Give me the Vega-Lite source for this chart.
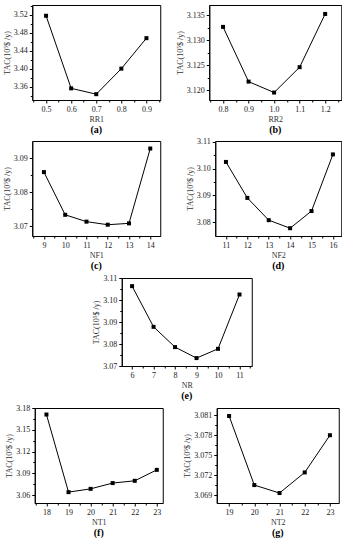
{
  "$schema": "https://vega.github.io/schema/vega-lite/v6.json",
  "padding": {"left": 2, "top": 4, "right": 0, "bottom": 0},
  "background": "white",
  "datasets": {
    "a": [{"x": 0.5, "y": 3.518}, {"x": 0.6, "y": 3.356}, {"x": 0.7, "y": 3.343}, {"x": 0.8, "y": 3.400}, {"x": 0.9, "y": 3.468}],
    "b": [{"x": 0.8, "y": 3.1327}, {"x": 0.9, "y": 3.1217}, {"x": 1.0, "y": 3.1195}, {"x": 1.1, "y": 3.1246}, {"x": 1.2, "y": 3.1353}],
    "c": [{"x": 9, "y": 3.0859}, {"x": 10, "y": 3.0734}, {"x": 11, "y": 3.0714}, {"x": 12, "y": 3.0705}, {"x": 13, "y": 3.0709}, {"x": 14, "y": 3.0928}],
    "d": [{"x": 11, "y": 3.1025}, {"x": 12, "y": 3.0891}, {"x": 13, "y": 3.0808}, {"x": 14, "y": 3.0778}, {"x": 15, "y": 3.0842}, {"x": 16, "y": 3.1053}],
    "e": [{"x": 6, "y": 3.1063}, {"x": 7, "y": 3.0878}, {"x": 8, "y": 3.0786}, {"x": 9, "y": 3.0736}, {"x": 10, "y": 3.0778}, {"x": 11, "y": 3.1025}],
    "f": [{"x": 18, "y": 3.171}, {"x": 19, "y": 3.064}, {"x": 20, "y": 3.0685}, {"x": 21, "y": 3.0765}, {"x": 22, "y": 3.0796}, {"x": 23, "y": 3.0947}],
    "g": [{"x": 19, "y": 3.0809}, {"x": 20, "y": 3.0705}, {"x": 21, "y": 3.0693}, {"x": 22, "y": 3.0724}, {"x": 23, "y": 3.0780}]
  },
  "vconcat": [
    {
      "hconcat": [
        {
          "width": 128, "height": 95,
          "data": {"name": "a"},
          "title": {"text": "(a)"},
          "layer": [
            {"mark": {"type": "line", "color": "black", "strokeWidth": 1},
             "encoding": {
               "x": {"field": "x", "type": "quantitative", "scale": {"domain": [0.445, 0.955], "nice": false, "zero": false}, "axis": {"values": [0.5, 0.6, 0.7, 0.8, 0.9], "format": ".1f", "title": "RR1"}},
               "y": {"field": "y", "type": "quantitative", "scale": {"domain": [3.330, 3.542], "nice": false, "zero": false}, "axis": {"values": [3.36, 3.40, 3.44, 3.48, 3.52], "format": ".2f", "title": "TAC(10⁵$ /y)"}}}},
            {"mark": {"type": "square", "color": "black", "size": 16, "opacity": 1},
             "encoding": {
               "x": {"field": "x", "type": "quantitative", "axis": {"values": [0.45, 0.55, 0.65, 0.75, 0.85, 0.95], "labels": false, "domain": false, "tickSize": 2, "title": null, "orient": "bottom"}},
               "y": {"field": "y", "type": "quantitative", "axis": {"values": [3.34, 3.38, 3.42, 3.46, 3.50, 3.54], "labels": false, "domain": false, "tickSize": 2, "title": null, "orient": "left"}}}}
          ],
          "resolve": {"axis": {"x": "independent", "y": "independent"}}
        },
        {
          "width": 132, "height": 95,
          "data": {"name": "b"},
          "title": {"text": "(b)"},
          "layer": [
            {"mark": {"type": "line", "color": "black", "strokeWidth": 1},
             "encoding": {
               "x": {"field": "x", "type": "quantitative", "scale": {"domain": [0.746, 1.263], "nice": false, "zero": false}, "axis": {"values": [0.8, 0.9, 1.0, 1.1, 1.2], "format": ".1f", "title": "RR2"}},
               "y": {"field": "y", "type": "quantitative", "scale": {"domain": [3.118, 3.1371], "nice": false, "zero": false}, "axis": {"values": [3.120, 3.125, 3.130, 3.135], "format": ".3f", "title": "TAC(10⁵$ /y)"}}}},
            {"mark": {"type": "square", "color": "black", "size": 16, "opacity": 1},
             "encoding": {
               "x": {"field": "x", "type": "quantitative", "axis": {"values": [0.75, 0.85, 0.95, 1.05, 1.15, 1.25], "labels": false, "domain": false, "tickSize": 2, "title": null, "orient": "bottom"}},
               "y": {"field": "y", "type": "quantitative", "axis": {"values": [3.1225, 3.1275, 3.1325], "labels": false, "domain": false, "tickSize": 2, "title": null, "orient": "left"}}}}
          ],
          "resolve": {"axis": {"x": "independent", "y": "independent"}}
        }
      ],
      "spacing": 14
    },
    {
      "hconcat": [
        {
          "width": 128, "height": 95,
          "data": {"name": "c"},
          "title": {"text": "(c)"},
          "layer": [
            {"mark": {"type": "line", "color": "black", "strokeWidth": 1},
             "encoding": {
               "x": {"field": "x", "type": "quantitative", "scale": {"domain": [8.45, 14.47], "nice": false, "zero": false}, "axis": {"values": [9, 10, 11, 12, 13, 14], "format": "d", "title": "NF1"}},
               "y": {"field": "y", "type": "quantitative", "scale": {"domain": [3.0672, 3.095], "nice": false, "zero": false}, "axis": {"values": [3.07, 3.08, 3.09], "format": ".2f", "title": "TAC(10⁵$ /y)"}}}},
            {"mark": {"type": "square", "color": "black", "size": 16, "opacity": 1},
             "encoding": {
               "x": {"field": "x", "type": "quantitative", "axis": {"values": [8.5, 9.5, 10.5, 11.5, 12.5, 13.5], "labels": false, "domain": false, "tickSize": 2, "title": null, "orient": "bottom"}},
               "y": {"field": "y", "type": "quantitative", "axis": {"values": [3.075, 3.085], "labels": false, "domain": false, "tickSize": 2, "title": null, "orient": "left"}}}}
          ],
          "resolve": {"axis": {"x": "independent", "y": "independent"}}
        },
        {
          "width": 126, "height": 95,
          "data": {"name": "d"},
          "title": {"text": "(d)"},
          "layer": [
            {"mark": {"type": "line", "color": "black", "strokeWidth": 1},
             "encoding": {
               "x": {"field": "x", "type": "quantitative", "scale": {"domain": [10.5, 16.39], "nice": false, "zero": false}, "axis": {"values": [11, 12, 13, 14, 15, 16], "format": "d", "title": "NF2"}},
               "y": {"field": "y", "type": "quantitative", "scale": {"domain": [3.0749, 3.1103], "nice": false, "zero": false}, "axis": {"values": [3.08, 3.09, 3.10, 3.11], "format": ".2f", "title": "TAC(10⁵$ /y)"}}}},
            {"mark": {"type": "square", "color": "black", "size": 16, "opacity": 1},
             "encoding": {
               "x": {"field": "x", "type": "quantitative", "axis": {"values": [11.5, 12.5, 13.5, 14.5, 15.5], "labels": false, "domain": false, "tickSize": 2, "title": null, "orient": "bottom"}},
               "y": {"field": "y", "type": "quantitative", "axis": {"values": [3.085, 3.095, 3.105], "labels": false, "domain": false, "tickSize": 2, "title": null, "orient": "left"}}}}
          ],
          "resolve": {"axis": {"x": "independent", "y": "independent"}}
        }
      ],
      "spacing": 24
    },
    {
      "hconcat": [
        {
          "width": 130, "height": 88,
          "data": {"name": "e"},
          "title": {"text": "(e)"},
          "layer": [
            {"mark": {"type": "line", "color": "black", "strokeWidth": 1},
             "encoding": {
               "x": {"field": "x", "type": "quantitative", "scale": {"domain": [5.52, 11.57], "nice": false, "zero": false}, "axis": {"values": [6, 7, 8, 9, 10, 11], "format": "d", "title": "NR"}},
               "y": {"field": "y", "type": "quantitative", "scale": {"domain": [3.07, 3.11], "nice": false, "zero": false}, "axis": {"values": [3.07, 3.08, 3.09, 3.10, 3.11], "format": ".2f", "title": "TAC(10⁵$ /y)"}}}},
            {"mark": {"type": "square", "color": "black", "size": 16, "opacity": 1},
             "encoding": {
               "x": {"field": "x", "type": "quantitative", "axis": {"values": [6.5, 7.5, 8.5, 9.5, 10.5, 11.5], "labels": false, "domain": false, "tickSize": 2, "title": null, "orient": "bottom"}},
               "y": {"field": "y", "type": "quantitative", "axis": {"values": [3.075, 3.085, 3.095, 3.105], "labels": false, "domain": false, "tickSize": 2, "title": null, "orient": "left"}}}}
          ],
          "resolve": {"axis": {"x": "independent", "y": "independent"}}
        }
      ]
    },
    {
      "hconcat": [
        {
          "width": 128, "height": 95,
          "data": {"name": "f"},
          "title": {"text": "(f)"},
          "layer": [
            {"mark": {"type": "line", "color": "black", "strokeWidth": 1},
             "encoding": {
               "x": {"field": "x", "type": "quantitative", "scale": {"domain": [17.47, 23.27], "nice": false, "zero": false}, "axis": {"values": [18, 19, 20, 21, 22, 23], "format": "d", "title": "NT1"}},
               "y": {"field": "y", "type": "quantitative", "scale": {"domain": [3.049, 3.18], "nice": false, "zero": false}, "axis": {"values": [3.06, 3.09, 3.12, 3.15, 3.18], "format": ".2f", "title": "TAC(10⁵$ /y)"}}}},
            {"mark": {"type": "square", "color": "black", "size": 16, "opacity": 1},
             "encoding": {
               "x": {"field": "x", "type": "quantitative", "axis": {"values": [17.5, 18.5, 19.5, 20.5, 21.5, 22.5], "labels": false, "domain": false, "tickSize": 2, "title": null, "orient": "bottom"}},
               "y": {"field": "y", "type": "quantitative", "axis": {"values": [3.075, 3.105, 3.135, 3.165], "labels": false, "domain": false, "tickSize": 2, "title": null, "orient": "left"}}}}
          ],
          "resolve": {"axis": {"x": "independent", "y": "independent"}}
        },
        {
          "width": 122, "height": 95,
          "data": {"name": "g"},
          "title": {"text": "(g)"},
          "layer": [
            {"mark": {"type": "line", "color": "black", "strokeWidth": 1},
             "encoding": {
               "x": {"field": "x", "type": "quantitative", "scale": {"domain": [18.51, 23.35], "nice": false, "zero": false}, "axis": {"values": [19, 20, 21, 22, 23], "format": "d", "title": "NT2"}},
               "y": {"field": "y", "type": "quantitative", "scale": {"domain": [3.0678, 3.0821], "nice": false, "zero": false}, "axis": {"values": [3.069, 3.072, 3.075, 3.078, 3.081], "format": ".3f", "title": "TAC(10⁵$ /y)"}}}},
            {"mark": {"type": "square", "color": "black", "size": 16, "opacity": 1},
             "encoding": {
               "x": {"field": "x", "type": "quantitative", "axis": {"values": [19.5, 20.5, 21.5, 22.5], "labels": false, "domain": false, "tickSize": 2, "title": null, "orient": "bottom"}},
               "y": {"field": "y", "type": "quantitative", "axis": {"values": [3.0705, 3.0735, 3.0765, 3.0795], "labels": false, "domain": false, "tickSize": 2, "title": null, "orient": "left"}}}}
          ],
          "resolve": {"axis": {"x": "independent", "y": "independent"}}
        }
      ],
      "spacing": 19
    }
  ],
  "spacing": 1,
  "center": true,
  "config": {
    "view": {"stroke": "black", "strokeWidth": 1},
    "title": {"orient": "bottom", "anchor": "middle", "font": "Liberation Serif", "fontSize": 10, "fontWeight": "bold", "color": "black", "offset": 2},
    "axis": {
      "grid": false,
      "labelFont": "Liberation Serif", "labelFontSize": 8, "labelColor": "#222",
      "titleFont": "Liberation Serif", "titleFontSize": 8, "titleFontWeight": "normal", "titleColor": "#333",
      "tickColor": "black", "domainColor": "black", "tickSize": 3, "labelPadding": 2, "titlePadding": 2
    }
  }
}
